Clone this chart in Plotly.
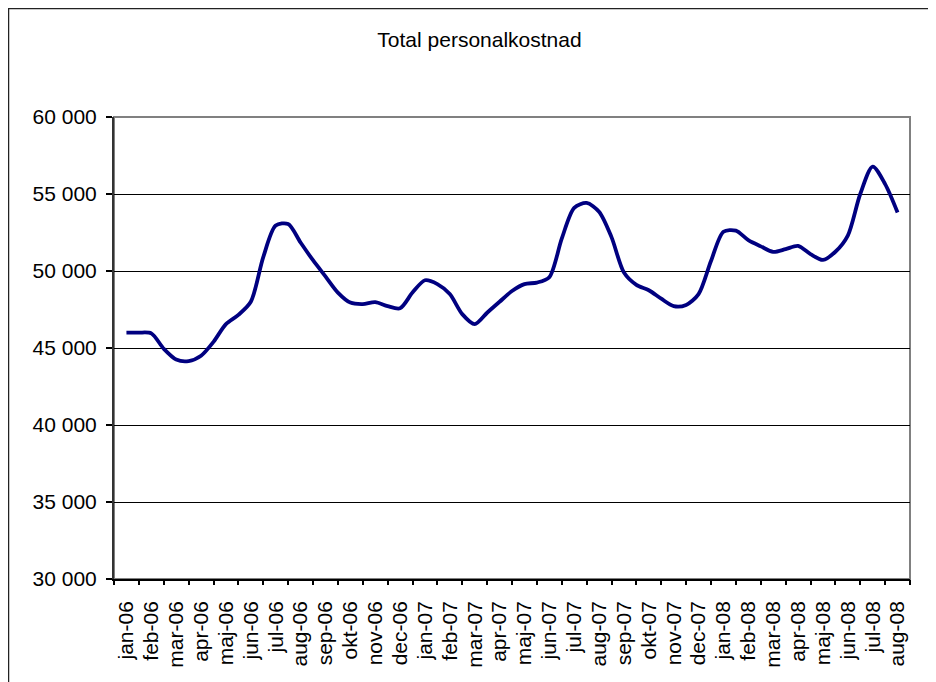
import plotly.graph_objects as go

# Month labels (category axis)
months = ["jan-06", "feb-06", "mar-06", "apr-06", "maj-06", "jun-06", "jul-06", "aug-06",
          "sep-06", "okt-06", "nov-06", "dec-06", "jan-07", "feb-07", "mar-07", "apr-07",
          "maj-07", "jun-07", "jul-07", "aug-07", "sep-07", "okt-07", "nov-07", "dec-07",
          "jan-08", "feb-08", "mar-08", "apr-08", "maj-08", "jun-08", "jul-08", "aug-08"]

# Position in months since jan-06 (half-month readings)
period = [0, 0.5, 1, 1.5, 2, 2.5, 3, 3.5, 4, 4.5, 5, 5.5, 6, 6.5, 7, 7.5, 8, 8.5, 9, 9.5,
          10, 10.5, 11, 11.5, 12, 12.5, 13, 13.5, 14, 14.5, 15, 15.5, 16, 16.5, 17, 17.5,
          18, 18.5, 19, 19.5, 20, 20.5, 21, 21.5, 22, 22.5, 23, 23.5, 24, 24.5, 25, 25.5,
          26, 26.5, 27, 27.5, 28, 28.5, 29, 29.5, 30, 30.5, 31]

# Total personalkostnad values
cost = [46000, 46000, 45950, 44950, 44250, 44150, 44500, 45400, 46550, 47150,
        48000, 50900, 52950, 53050, 51850, 50700, 49650, 48600, 47950, 47850,
        47980, 47720, 47580, 48600, 49400, 49150, 48500, 47200, 46550, 47290,
        48000, 48700, 49150, 49250, 49600, 52100, 54100, 54420, 53850, 52200,
        49900, 49100, 48750, 48200, 47720, 47800, 48500, 50650, 52550, 52620,
        52000, 51600, 51240, 51420, 51630, 51100, 50720, 51250, 52300, 55000,
        56780, 55640, 53800]

y_ticks = [30000, 35000, 40000, 45000, 50000, 55000, 60000]

font_family = "Liberation Sans, Arial, sans-serif"

# page body has an 8px margin; figure fills the rest of the 936x682 window
W, H = 928, 674
ML, MR, MT, MB = 106, 26, 109, 103
PW, PH = W - ML - MR, H - MT - MB

fig = go.Figure()
fig.add_trace(go.Scatter(
    x=period, y=cost, mode="lines",
    line=dict(color="#000080", width=3.8, shape="spline", smoothing=0.8),
    hoverinfo="skip", showlegend=False,
))
# invisible trace to activate the tick-mark axis
fig.add_trace(go.Scatter(x=[period[0]], y=[cost[0]], xaxis="x2", mode="markers",
                         marker=dict(opacity=0), hoverinfo="skip", showlegend=False))

n = len(months)
fig.update_layout(
    width=W, height=H,
    paper_bgcolor="white", plot_bgcolor="white",
    margin=dict(l=ML, r=MR, t=MT, b=MB, pad=0),
    separators=", ",
    font=dict(family=font_family, color="black", size=21),
    title=dict(text="Total personalkostnad", x=(479.5 - 8) / W, xref="container", xanchor="center",
               y=1 - (40 - 8) / H, yref="container", yanchor="middle",
               font=dict(size=21, family=font_family, color="black")),
    xaxis=dict(
        range=[-0.5, n - 0.5],
        tickmode="array", tickvals=list(range(n)), ticktext=months,
        tickangle=-90, ticks="", showgrid=False, zeroline=False,
        showline=True, linecolor="black", linewidth=1.5,
        tickfont=dict(size=21), ticklabelstandoff=12,
    ),
    xaxis2=dict(
        range=[-0.5, n - 0.5], overlaying="x", anchor="y", side="bottom",
        tickmode="array", tickvals=[i - 0.5 for i in range(n + 1)],
        ticks="outside", ticklen=5, tickcolor="black", tickwidth=1.5,
        showticklabels=False, showgrid=False, zeroline=False, showline=False,
    ),
    yaxis=dict(
        range=[30000, 60000], tickmode="array", tickvals=y_ticks, tickformat=",d",
        ticks="outside", ticklen=6, tickcolor="black", tickwidth=1.5,
        showgrid=True, gridcolor="black", gridwidth=1,
        zeroline=False, showline=True, linecolor="#333333", linewidth=2,
        tickfont=dict(size=21), ticklabelstandoff=5,
    ),
    shapes=[
        dict(type="rect", xref="paper", yref="paper", x0=0, x1=1, y0=0, y1=1,
             line=dict(color="#808080", width=2), layer="below"),
        dict(type="rect", xref="paper", yref="paper",
             x0=(0.5 - ML) / PW, x1=(W + 10 - ML) / PW,
             y0=-(MB + 10) / PH, y1=(PH + MT - 0.5) / PH,
             line=dict(color="#222222", width=1.5), layer="below"),
    ],
)

fig.write_html("out.html")
